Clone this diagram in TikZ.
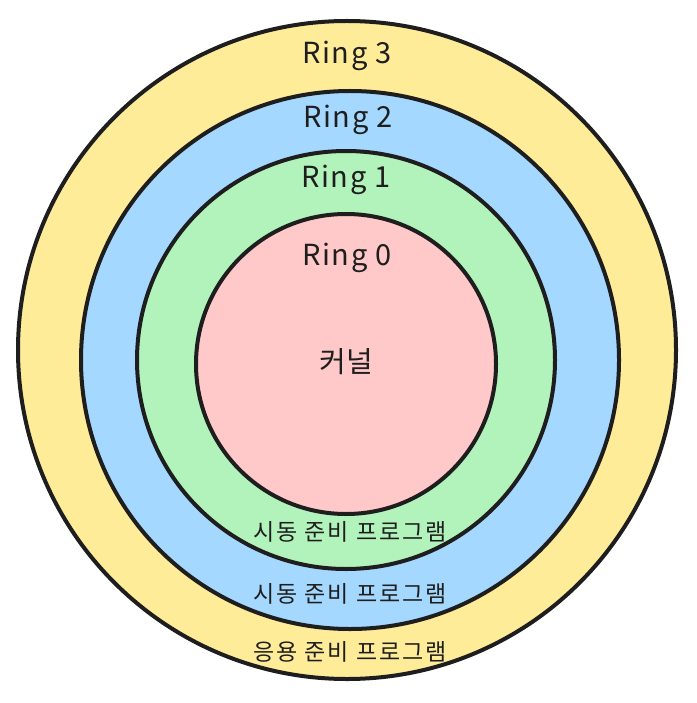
\documentclass[tikz,border=0pt]{standalone}
\usepackage{fontspec}
\setmainfont{Noto Sans CJK KR}
\newfontfamily\kofont[LetterSpace=8]{Noto Sans CJK KR}
\newfontfamily\ringfont[LetterSpace=6]{Noto Sans CJK KR}
\usetikzlibrary{calc}
\definecolor{inkline}{HTML}{1E1E1E}
\definecolor{ylwfill}{HTML}{FFEC99}
\definecolor{bluefill}{HTML}{A5D8FF}
\definecolor{grnfill}{HTML}{B2F2BB}
\definecolor{redfill}{HTML}{FFC9C9}

\begin{document}
\begin{tikzpicture}[x=1pt,y=-1pt,
  ring/.style={draw=inkline,circle,line width=4pt,inner sep=0pt},
  ringlbl/.style={font=\ringfont\fontsize{29}{32}\selectfont,text=inkline},
  tasklbl/.style={font=\kofont\fontsize{23}{26}\selectfont,text=inkline}]
\useasboundingbox (0,0) rectangle (696,703);
\node[ring,fill=ylwfill,minimum size=658pt] (ring3) at (347,350) {};
\node[ring,fill=bluefill,minimum size=538pt] (ring2) at (350,360) {};
\node[ring,fill=grnfill,minimum size=418pt] (ring1) at (346,360) {};
\node[ring,fill=redfill,minimum size=300pt] (ring0) at (346,364) {};
\node[ringlbl] (r3) at ($(ring3.north)+(0,37)$) {Ring 3};
\node[ringlbl] (r2) at ($(ring2.north)+(-2,31)$) {Ring 2};
\node[ringlbl] (r1) at ($(ring1.north)+(0,31)$) {Ring 1};
\node[ringlbl] (r0) at ($(ring0.north)+(1,46)$) {Ring 0};
\node[font=\fontsize{29}{32}\selectfont,text=inkline] (kern) at (346,362) {커널};
\node[tasklbl] (boot1) at ($(ring1.south)+(4,-39)$) {시동 준비 프로그램};
\node[tasklbl] (boot2) at ($(ring2.south)+(0,-37)$) {시동 준비 프로그램};
\node[tasklbl] (app) at ($(ring3.south)+(3,-29)$) {응용 준비 프로그램};
\end{tikzpicture}
\end{document}
